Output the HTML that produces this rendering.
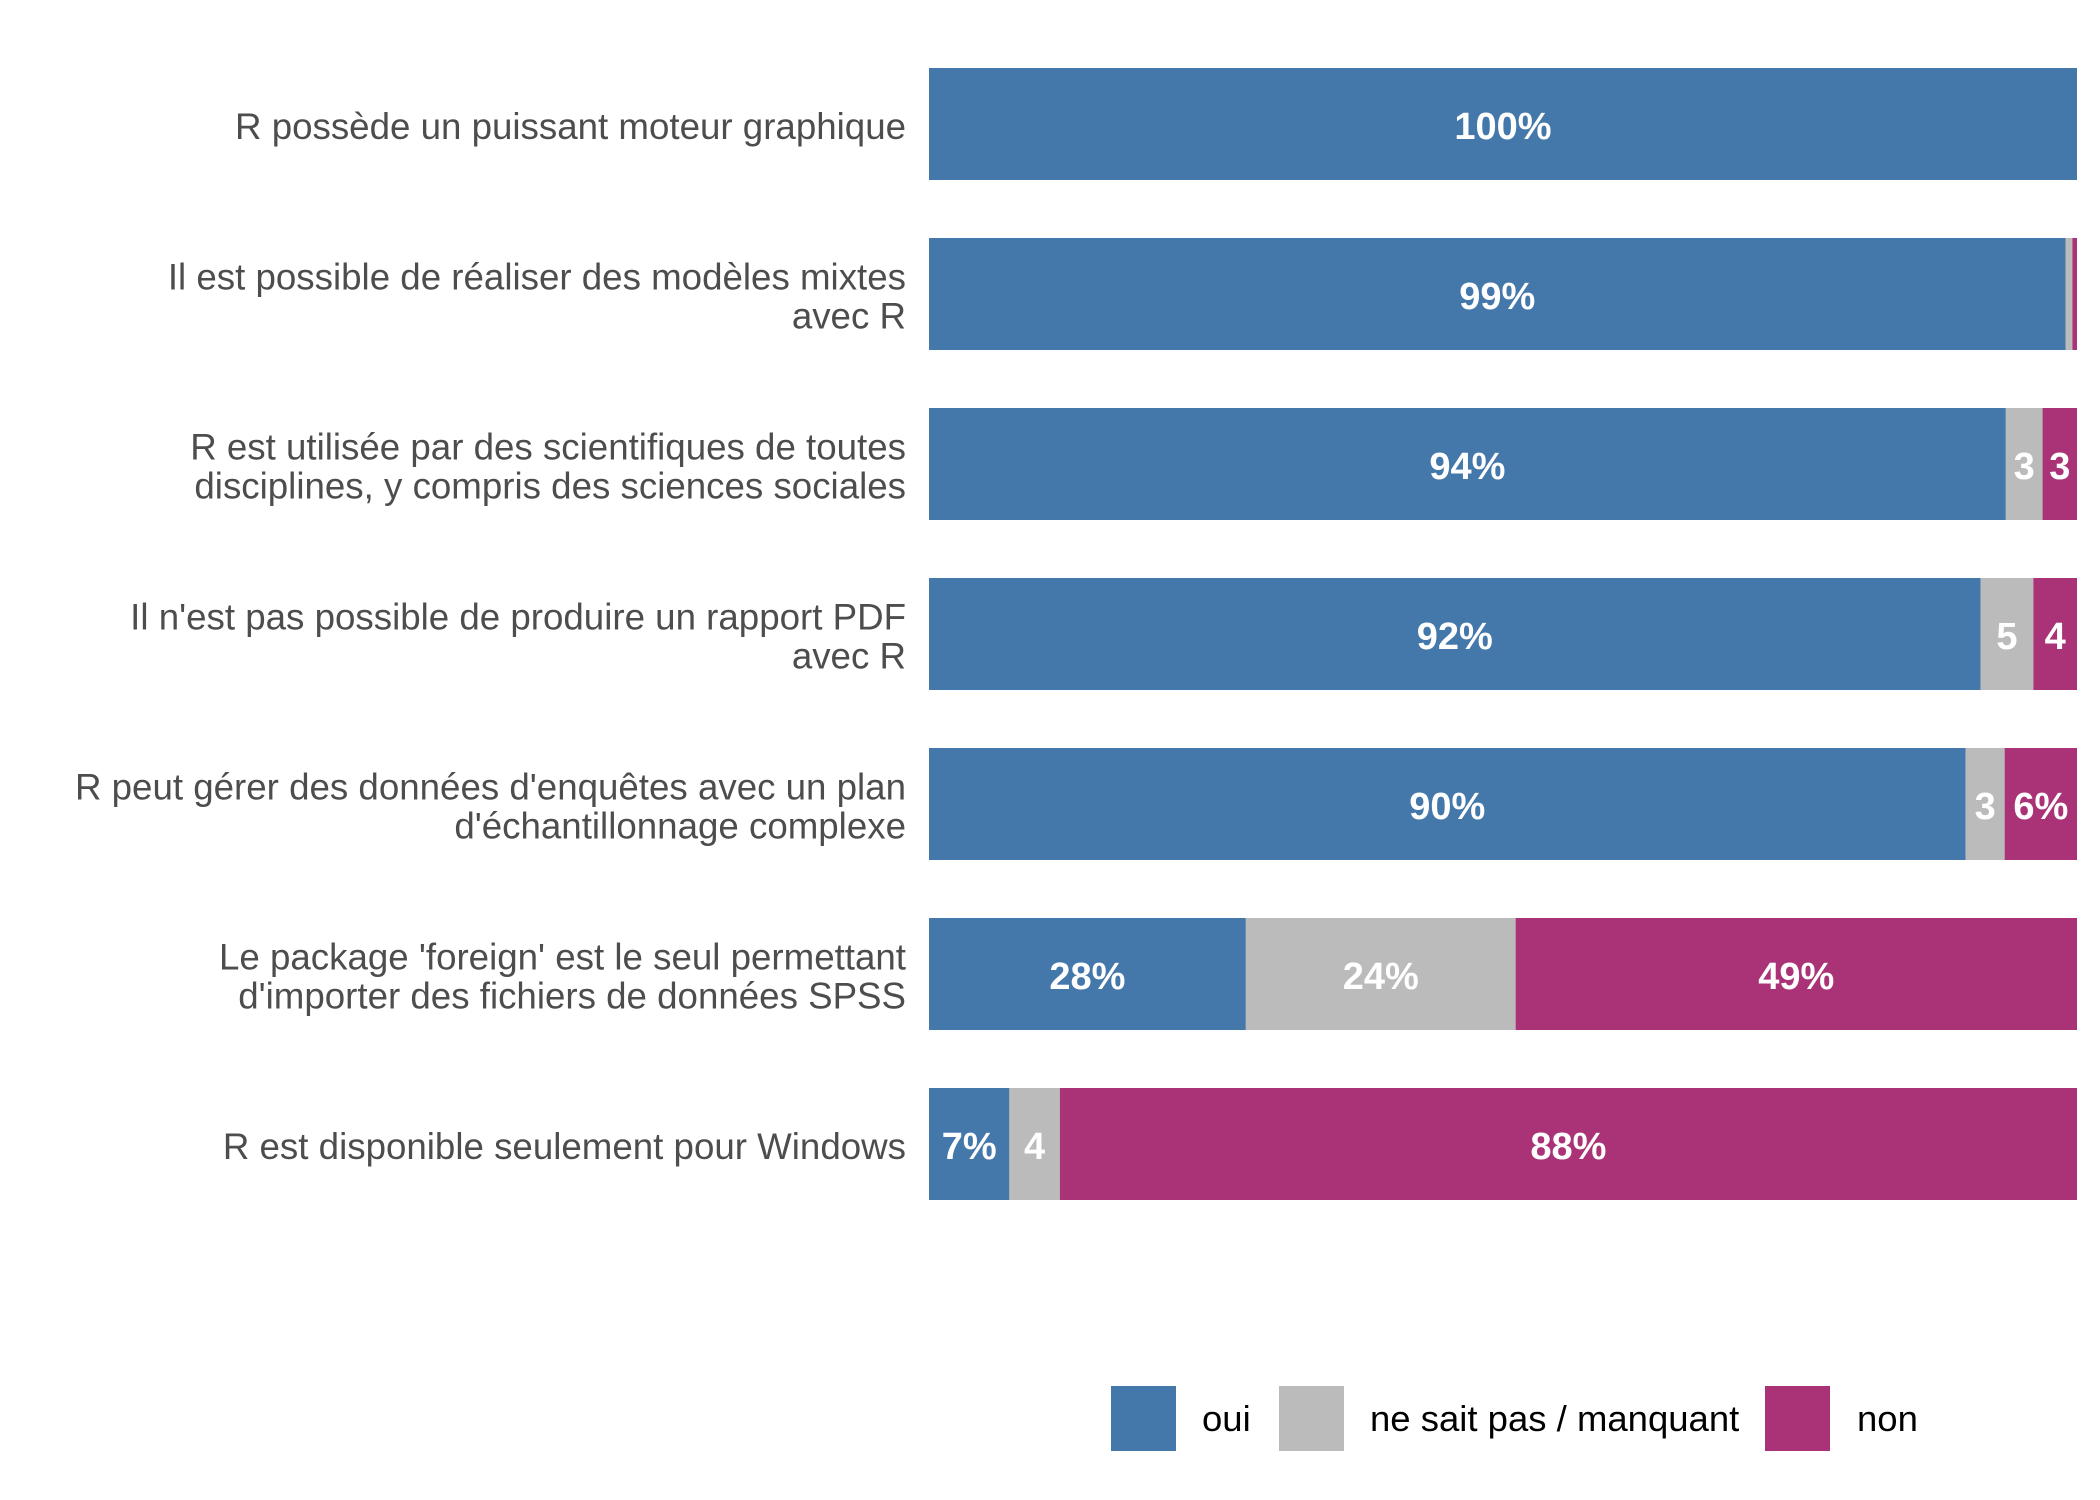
<!DOCTYPE html>
<html><head><meta charset="utf-8"><style>
html,body{margin:0;padding:0;background:#fff;}
svg{display:block;font-family:"Liberation Sans",sans-serif;}
</style></head><body>
<svg id="chart" width="2100" height="1500" viewBox="0 0 2100 1500"></svg>
<script>
const questions = [
  ["R possède un puissant moteur graphique"],
  ["Il est possible de réaliser des modèles mixtes","avec R"],
  ["R est utilisée par des scientifiques de toutes","disciplines, y compris des sciences sociales"],
  ["Il n'est pas possible de produire un rapport PDF","avec R"],
  ["R peut gérer des données d'enquêtes avec un plan","d'échantillonnage complexe"],
  ["Le package 'foreign' est le seul permettant","d'importer des fichiers de données SPSS"],
  ["R est disponible seulement pour Windows"]
];
const ouiValues = [100, 99.0, 93.8, 91.6, 90.3, 27.6, 7.0];
const nspValues = [0, 0.6, 3.2, 4.6, 3.4, 23.5, 4.4];
const nonValues = [0, 0.4, 3.0, 3.8, 6.3, 48.9, 88.6];
const ouiLabels = ["100%","99%","94%","92%","90%","28%","7%"];
const nspLabels = ["","","3","5","3","24%","4"];
const nonLabels = ["","","3","4","6%","49%","88%"];
const seriesNames = ["oui","ne sait pas / manquant","non"];

const NS="http://www.w3.org/2000/svg";
const svg=document.getElementById('chart');
const x0=929, x1=2077;
const xScale=v=>x0+(x1-x0)*v/100;
const yCenter=i=>124+i*170;
const barH=112;
const colors=["#4477aa","#bbbbbb","#aa3377"];
function mk(tag,attrs){const e=document.createElementNS(NS,tag);for(const k in attrs)e.setAttribute(k,attrs[k]);svg.appendChild(e);return e;}

questions.forEach((lines,i)=>{
  const cy=yCenter(i);
  const lab=mk('text',{x:906,'text-anchor':'end','font-size':36.7,fill:'#4d4d4d'});
  
  
  const n=lines.length;
  lines.forEach((l,j)=>{
    const t=document.createElementNS(NS,'tspan');
    t.setAttribute('x',906);
    t.setAttribute('y',cy+15+(j-(n-1)/2)*39);
    t.textContent=l;lab.appendChild(t);
  });
  const vals=[ouiValues[i],nspValues[i],nonValues[i]];
  const labs=[ouiLabels[i],nspLabels[i],nonLabels[i]];
  let cum=0;
  vals.forEach((v,k)=>{
    if(v<=0)return;
    const xa=xScale(cum), xb=xScale(cum+v);
    const r=mk('rect',{x:xa,y:cy-barH/2,width:xb-xa,height:barH,fill:colors[k]});
    
    
    if(labs[k]){
      const t=mk('text',{x:(xa+xb)/2,y:cy+15,'text-anchor':'middle','font-size':38,'font-weight':'bold',fill:'#fff'});
      
      
      t.textContent=labs[k];
    }
    cum+=v;
  });
});

const legendKeys=[1111,1279,1765];
const legendText=[1202,1370,1857];
seriesNames.forEach((s,k)=>{
  const r=mk('rect',{x:legendKeys[k],y:1386,width:65,height:65,fill:colors[k]});
  
  
  const t=mk('text',{x:legendText[k],y:1431,'font-size':36.5,fill:'#000'});
  
  
  t.textContent=s;
});
</script>
</body></html>
